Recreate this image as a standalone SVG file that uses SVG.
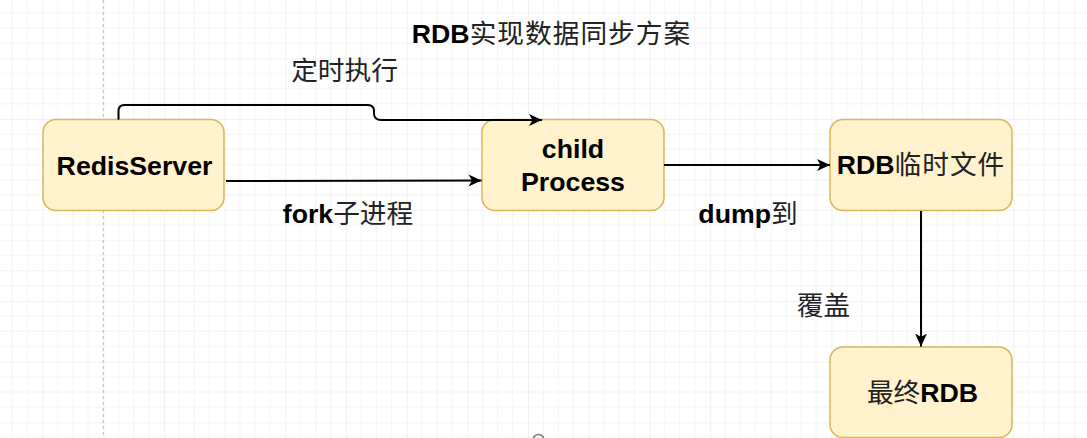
<svg xmlns="http://www.w3.org/2000/svg" width="1087" height="438" viewBox="0 0 1087 438">
<style>
.node rect{fill:#fff2cc;stroke:#d6b656;stroke-width:1.5}
.t{font-family:"Liberation Sans","Noto Sans CJK SC",sans-serif;font-size:26.7px;fill:#000;text-anchor:middle}
.b{font-weight:bold}
.cjk{font-family:"Noto Sans CJK SC",sans-serif;font-weight:normal;fill:#222}
.edge{fill:none;stroke:#000;stroke-width:2}
</style>
<defs>
<pattern id="grid" patternUnits="userSpaceOnUse" x="42.67" y="-2.33" width="60.67" height="60.67">
<path d="M15.17 0V60.67M30.33 0V60.67M45.5 0V60.67M0 15.17H60.67M0 30.33H60.67M0 45.5H60.67" stroke="#f3f3f3" stroke-width="1" fill="none"/>
<path d="M0 0V60.67M0 0H60.67" stroke="#e6e6e6" stroke-width="1" fill="none"/>
</pattern>
<marker id="arr" markerWidth="14" markerHeight="14" viewBox="0 0 14 14" refX="13" refY="7" orient="auto" markerUnits="userSpaceOnUse">
<path d="M0,1 L13,7 L0,13 L3.5,7 Z" fill="#000"/>
</marker>
</defs>
<rect width="1087" height="438" fill="#fff"/>
<rect width="1087" height="438" fill="url(#grid)"/>
<line x1="103.3" y1="0" x2="103.3" y2="438" stroke="#bbb" stroke-width="1" stroke-dasharray="3,3"/>
<circle cx="538.5" cy="440" r="5.5" fill="none" stroke="#777" stroke-width="1.5"/>

<g id="title">
<text class="t" x="551.5" y="43"><tspan class="b">RDB</tspan><tspan class="cjk" letter-spacing="1">实现数据同步方案</tspan></text>
</g>

<g id="node-redisserver" class="node">
<rect x="43" y="119.5" width="181" height="91" rx="13" ry="13"/>
<text class="t b" x="134.5" y="175">RedisServer</text>
</g>
<g id="node-child" class="node">
<rect x="482" y="119.5" width="182" height="91" rx="13" ry="13"/>
<text class="t b" x="573" y="158">child</text>
<text class="t b" x="573" y="190.5">Process</text>
</g>
<g id="node-rdbtemp" class="node">
<rect x="830" y="119.5" width="182" height="91" rx="13" ry="13"/>
<text class="t" x="921" y="174"><tspan class="b">RDB</tspan><tspan class="cjk" letter-spacing="1">临时文件</tspan></text>
</g>
<g id="node-final" class="node">
<rect x="830" y="347" width="182" height="90.5" rx="13" ry="13"/>
<text class="t" x="922.5" y="401.5"><tspan class="cjk">最终</tspan><tspan class="b">RDB</tspan></text>
</g>

<g id="edges">
<path class="edge" d="M118.5,119.5 V111 Q118.5,105 124.5,105 H367 Q373.5,105 374,110 V114 Q374.5,120 381,120 H542" marker-end="url(#arr)"/>
<path class="edge" d="M226,181 L481.5,180.5" marker-end="url(#arr)"/>
<path class="edge" d="M664,165 H830" marker-end="url(#arr)"/>
<path class="edge" d="M921,211 V346.5" marker-end="url(#arr)"/>
</g>

<g id="labels">
<text class="t cjk" x="344.5" y="80">定时执行</text>
<text class="t" x="348" y="223"><tspan class="b">fork</tspan><tspan class="cjk">子进程</tspan></text>
<text class="t" x="748" y="222.5"><tspan class="b">dump</tspan><tspan class="cjk">到</tspan></text>
<text class="t cjk" x="823.5" y="315">覆盖</text>
</g>
</svg>
